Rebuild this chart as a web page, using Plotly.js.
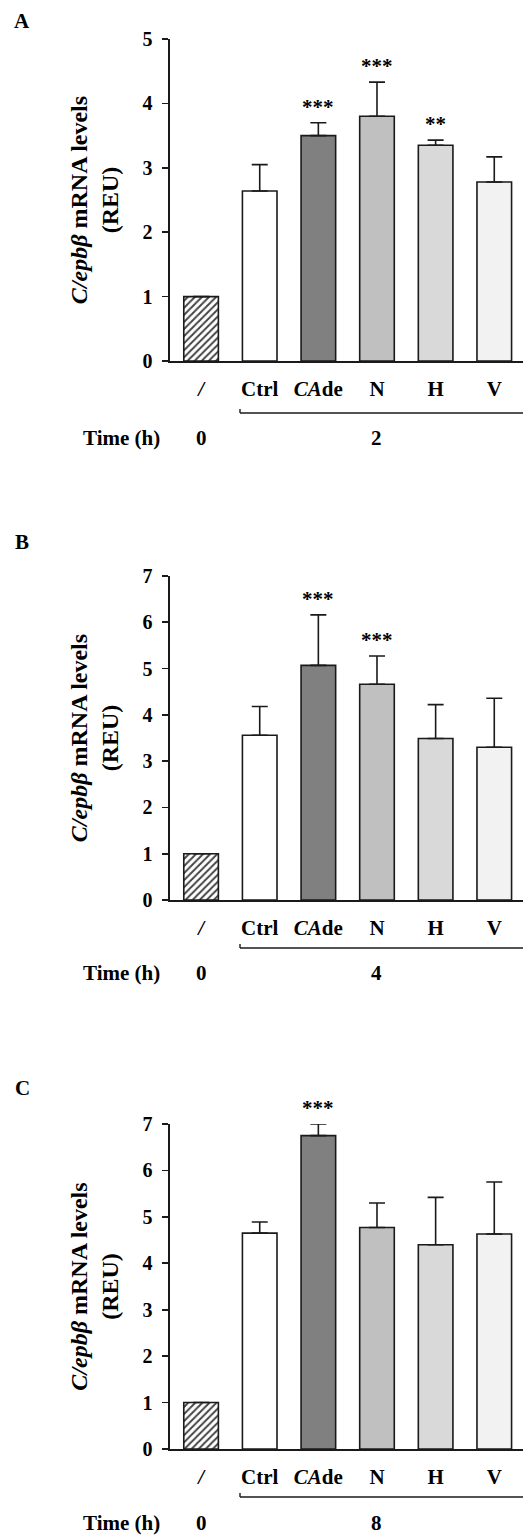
<!DOCTYPE html>
<html><head><meta charset="utf-8">
<script src="https://cdn.plot.ly/plotly-3.0.1.min.js"></script>
<style>html,body{margin:0;padding:0;background:#fff}#chart{width:523px;height:1536px}</style>
</head><body><div id="chart"></div>
<script>
// ---- data ----
const categories = ['/', 'Ctrl', 'CAde', 'N', 'H', 'V'];
const tickLabels = ['<i>/</i>', 'Ctrl', '<i>CA</i>de', 'N', 'H', 'V'];
const barColors = ['#ffffff', '#ffffff', '#808080', '#c0c0c0', '#d9d9d9', '#f2f2f2'];
const barPatterns = ['/', '', '', '', '', ''];
const panelLetters = ['A', 'B', 'C'];
const timeZero = '0';
const timeValues = ['2', '4', '8'];
const yMaxA = 5, yMaxB = 7, yMaxC = 7;

const valuesA = [1, 2.64, 3.50, 3.80, 3.35, 2.78];
const errorsA = [0, 0.41, 0.20, 0.53, 0.08, 0.39];
const starsA  = ['', '', '***', '***', '**', ''];

const valuesB = [1, 3.56, 5.07, 4.66, 3.49, 3.30];
const errorsB = [0, 0.62, 1.09, 0.61, 0.73, 1.06];
const starsB  = ['', '', '***', '***', '', ''];

const valuesC = [1, 4.65, 6.75, 4.77, 4.40, 4.63];
const errorsC = [0, 0.24, 0.25, 0.53, 1.02, 1.12];
const starsC  = ['', '', '***', '', '', ''];

const yTitle = '<i>C/epbβ</i> mRNA levels<br>(REU)';

// ---- layout helpers ----
const FAM = 'Liberation Serif, Times New Roman, serif';
const H = 1536, W = 523;
const panels = [
  {v: valuesA, e: errorsA, s: starsA, max: yMaxA, top: 39,   bot: 361,  brk: 52, time: 77, letterY: 21},
  {v: valuesB, e: errorsB, s: starsB, max: yMaxB, top: 576,  bot: 900,  brk: 48, time: 73, letterY: 542},
  {v: valuesC, e: errorsC, s: starsC, max: yMaxC, top: 1124, bot: 1449, brk: 48, time: 74, letterY: 1088}
];

const data = [];
const layout = {
  width: W, height: H,
  margin: {l: 0, r: 0, t: 0, b: 0},
  paper_bgcolor: '#fff', plot_bgcolor: '#fff',
  showlegend: false,
  font: {family: FAM, color: '#000'},
  annotations: [], shapes: []
};

panels.forEach((p, k) => {
  const sfx = k === 0 ? '' : String(k + 1);
  const xa = 'x' + sfx, ya = 'y' + sfx;
  data.push({
    type: 'bar', x: categories, y: p.v, xaxis: xa, yaxis: ya, width: 0.59,
    marker: {color: barColors, line: {color: '#1a1a1a', width: 1.6},
             pattern: {shape: barPatterns, fgcolor: '#6a6a6a', bgcolor: '#ffffff', fgopacity: 1,
                       size: 5, solidity: 0.4, fillmode: 'overlay'}},
    error_y: {type: 'data', symmetric: false, array: p.e, arrayminus: p.e.map(() => 0),
              color: '#1a1a1a', thickness: 1.6, width: 8},
    hoverinfo: 'none'
  });
  const hpx = p.bot - p.top;
  layout['xaxis' + sfx] = {
    domain: [170 / W, 1], anchor: ya, type: 'category', range: [-0.53, 5.49],
    showline: true, linecolor: '#1a1a1a', linewidth: 1.6, ticks: '', showgrid: false, zeroline: false,
    tickmode: 'array', tickvals: categories, ticktext: tickLabels,
    tickfont: {family: FAM, size: 21, weight: 'bold', color: '#000'}, ticklabelstandoff: 8
  };
  layout['yaxis' + sfx] = {
    domain: [1 - p.bot / H, 1 - p.top / H], anchor: xa, range: [0, p.max], dtick: 1,
    showline: true, linecolor: '#1a1a1a', linewidth: 1.6, ticks: 'outside', ticklen: 6, tickwidth: 1.6,
    tickcolor: '#1a1a1a', showgrid: false, zeroline: false,
    tickfont: {family: FAM, size: 20, weight: 'bold', color: '#000'}, ticklabelstandoff: 6,
    title: {text: yTitle, font: {family: FAM, size: 24, weight: 'bold', color: '#000'}, standoff: 17}
  };
  // significance stars
  p.s.forEach((st, i) => {
    if (!st) return;
    layout.annotations.push({xref: xa, yref: ya, x: i, y: p.v[i] + p.e[i], text: st, showarrow: false,
      xanchor: 'center', yanchor: 'bottom', yshift: 2, font: {family: FAM, size: 21, weight: 'bold', color: '#000'}});
  });
  // bracket
  const by = -p.brk / hpx, hook = -(p.brk - 4) / hpx;
  const bx0 = 70 / 353;
  layout.shapes.push({type: 'line', xref: xa + ' domain', yref: ya + ' domain', x0: bx0, x1: 1, y0: by, y1: by,
    line: {color: '#1a1a1a', width: 1.4}});
  layout.shapes.push({type: 'line', xref: xa + ' domain', yref: ya + ' domain', x0: bx0, x1: bx0, y0: by, y1: hook,
    line: {color: '#1a1a1a', width: 1.4}});
  // time row
  const ty = -p.time / hpx;
  const tfont = {family: FAM, size: 21, weight: 'bold', color: '#000'};
  const base = {showarrow: false, xanchor: 'center', yanchor: 'middle', font: tfont};
  layout.annotations.push(Object.assign({xref: 'paper', yref: ya + ' domain', x: 121 / W, y: ty, text: 'Time (h)'}, base));
  layout.annotations.push(Object.assign({xref: xa, yref: ya + ' domain', x: 0, y: ty, text: timeZero}, base));
  layout.annotations.push(Object.assign({xref: xa, yref: ya + ' domain', x: 3, y: ty, text: timeValues[k]}, base));
  // panel letter
  layout.annotations.push(Object.assign({xref: 'paper', yref: 'paper', x: 22 / W, y: 1 - p.letterY / H,
    text: panelLetters[k]}, base));
});

Plotly.newPlot('chart', data, layout, {staticPlot: true});
</script>
</body></html>
